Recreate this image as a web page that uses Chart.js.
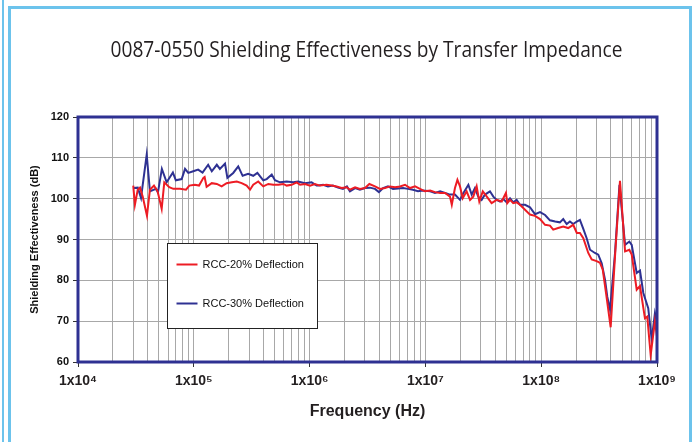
<!DOCTYPE html>
<html lang="en">
<head>
    <meta charset="UTF-8">
    <title>Shielding Effectiveness</title>
    <script src="https://cdn.jsdelivr.net/npm/chart.js"></script>
    <style>
        html, body {
            margin: 0;
            padding: 0;
            background: #fff;
            overflow: hidden;
        }
        #chart {
            position: absolute;
            left: 0;
            top: 0;
        }
        .edge {
            position: absolute;
            left: 2px;
            top: 0;
            width: 2px;
            height: 442px;
            background: #6cc3ec;
        }
        .frame {
            position: absolute;
            left: 8px;
            top: 6px;
            width: 678px;
            height: 460px;
            border: 3px solid #6cc3ec;
        }
    </style>
    <script>
        // frequency (Hz) / shielding effectiveness (dB)
        const rcc20Freq = [
            3.0e4, 3.1e4, 3.28e4, 3.43e4, 3.62e4, 3.94e4, 4.18e4, 4.53e4, 4.87e4, 5.28e4,
            5.56e4, 6.14e4, 6.65e4, 7.0e4, 7.6e4, 8.56e4, 9.15e4, 1.02e5, 1.11e5, 1.21e5,
            1.24e5, 1.29e5, 1.43e5, 1.58e5, 1.74e5, 1.92e5, 2.13e5, 2.35e5, 2.59e5, 2.86e5,
            3.06e5, 3.26e5, 3.6e5, 3.98e5, 4.4e5, 4.86e5, 5.37e5, 5.93e5, 6.34e5, 7.0e5,
            7.74e5, 8.27e5, 9.12e5, 1.01e6, 1.11e6, 1.23e6, 1.4e6, 1.55e6, 1.71e6, 1.89e6,
            2.09e6, 2.23e6, 2.47e6, 2.72e6, 3.01e6, 3.28e6, 3.67e6, 4.05e6, 4.48e6, 4.95e6,
            5.47e6, 6.04e6, 6.67e6, 7.37e6, 8.14e6, 8.98e6, 9.9e6, 1.1e7, 1.21e7, 1.34e7,
            1.48e7, 1.63e7, 1.69e7, 1.8e7, 1.89e7, 1.99e7, 2.1e7, 2.27e7, 2.43e7, 2.59e7,
            2.77e7, 2.92e7, 3.13e7, 3.39e7, 3.73e7, 4.13e7, 4.56e7, 4.96e7, 5.1e7, 5.38e7,
            5.74e7, 6.14e7, 6.56e7, 7.25e7, 8.0e7, 8.84e7, 9.77e7, 1.08e8, 1.19e8, 1.27e8,
            1.4e8, 1.55e8, 1.71e8, 1.89e8, 2.03e8, 2.16e8, 2.31e8, 2.55e8, 2.73e8, 3.01e8,
            3.22e8, 3.4e8, 3.63e8, 3.98e8, 4.34e8, 4.79e8, 5.3e8, 5.77e8, 6.05e8, 6.68e8,
            7.13e8, 7.87e8, 8.24e8, 8.82e8, 9.6e8, 1e9
        ];
        const rcc20SE = [
            103.2, 98.5, 102.2, 102.7, 100.5, 95.8, 102.2, 103.2, 101.8, 97.5,
            104.0, 102.8, 102.4, 102.4, 102.4, 102.2, 103.2, 103.4, 103.2, 105.1,
            105.3, 102.9, 103.8, 103.6, 103.0, 103.8, 104.0, 104.2, 103.8, 103.2,
            102.2, 103.4, 104.2, 103.0, 103.6, 103.4, 103.4, 103.6, 103.2, 103.4,
            104.0, 103.4, 103.6, 103.2, 103.6, 103.2, 103.4, 103.2, 103.0, 102.6,
            102.8, 102.2, 102.8, 102.4, 102.6, 103.6, 103.0, 102.4, 102.6, 103.0,
            102.8, 103.0, 103.4, 102.6, 103.0, 102.4, 101.8, 102.0, 101.6, 101.4,
            101.4, 100.5, 98.5, 102.6, 104.6, 103.0, 100.1, 101.8, 99.7, 100.5,
            103.0, 99.3, 101.8, 100.5, 98.9, 99.7, 99.3, 101.4, 98.9, 99.7,
            98.9, 99.1, 98.5, 97.3, 96.1, 95.8, 95.0, 93.6, 93.4, 92.4,
            92.8, 93.2, 92.8, 93.6, 91.6, 91.6, 90.3, 86.7, 85.1, 84.7,
            84.3, 82.6, 76.9, 68.5, 85.9, 104.4, 87.1, 87.5, 86.3, 77.7,
            78.6, 70.7, 71.1, 61.7, 70.0, 66.2
        ];

        const rcc30Freq = [
            3.0e4, 3.28e4, 3.5e4, 3.92e4, 4.18e4, 4.71e4, 4.9e4, 5.3e4, 5.83e4, 6.6e4,
            7.0e4, 7.86e4, 8.4e4, 8.96e4, 9.9e4, 1.09e5, 1.19e5, 1.33e5, 1.43e5, 1.58e5,
            1.68e5, 1.86e5, 1.95e5, 2.19e5, 2.42e5, 2.64e5, 2.95e5, 3.26e5, 3.54e5, 3.98e5,
            4.26e5, 4.71e5, 5.02e5, 5.55e5, 6.34e5, 7.23e5, 7.95e5, 9.12e5, 1.04e6, 1.15e6,
            1.19e6, 1.31e6, 1.44e6, 1.59e6, 1.76e6, 1.94e6, 2.1e6, 2.23e6, 2.47e6, 2.72e6,
            3.01e6, 3.32e6, 3.67e6, 3.97e6, 4.31e6, 4.75e6, 5.25e6, 5.8e6, 6.41e6, 7.07e6,
            7.81e6, 8.63e6, 9.54e6, 1.1e7, 1.21e7, 1.34e7, 1.48e7, 1.63e7, 1.8e7, 1.99e7,
            2.13e7, 2.35e7, 2.51e7, 2.68e7, 2.86e7, 3.06e7, 3.27e7, 3.61e7, 3.86e7, 4.13e7,
            4.41e7, 4.71e7, 5.03e7, 5.38e7, 5.74e7, 6.14e7, 6.56e7, 7.25e7, 8.0e7, 8.84e7,
            9.77e7, 1.08e8, 1.19e8, 1.32e8, 1.45e8, 1.55e8, 1.66e8, 1.77e8, 1.89e8, 2.03e8,
            2.16e8, 2.31e8, 2.47e8, 2.64e8, 2.91e8, 3.11e8, 3.33e8, 3.56e8, 3.72e8, 3.93e8,
            4.34e8, 4.74e8, 5.3e8, 5.77e8, 6.05e8, 6.68e8, 7.13e8, 7.62e8, 8.4e8, 9.0e8,
            9.6e8, 1e9
        ];
        const rcc30SE = [
            102.6, 102.7, 100.2, 110.8, 101.8, 102.4, 101.5, 107.3, 104.0, 106.4,
            104.5, 104.8, 107.3, 106.3, 106.7, 107.1, 106.4, 108.3, 106.7, 108.3,
            107.3, 108.6, 105.1, 106.3, 107.9, 105.6, 106.1, 105.6, 106.3, 104.5,
            104.8, 105.9, 104.5, 104.0, 104.2, 104.0, 104.2, 103.8, 104.0, 103.2,
            103.2, 103.4, 103.0, 103.2, 102.7, 102.4, 103.0, 101.8, 102.6, 102.2,
            102.6, 102.7, 102.4, 101.6, 102.6, 103.0, 102.4, 102.5, 102.6, 102.4,
            102.2, 101.8, 102.0, 101.8, 101.4, 101.8, 101.4, 101.0, 101.0, 99.7,
            101.4, 103.4, 101.0, 102.6, 100.5, 99.7, 101.0, 101.8, 100.5, 99.7,
            99.3, 99.9, 99.1, 100.1, 99.1, 99.7, 98.5, 98.5, 97.9, 96.2,
            96.7, 96.0, 94.7, 94.4, 94.2, 95.0, 93.8, 94.4, 93.8, 94.4,
            94.8, 92.6, 90.3, 87.5, 86.7, 86.3, 84.2, 80.1, 76.0, 72.8,
            86.7, 103.4, 88.7, 89.5, 88.7, 81.8, 82.4, 76.9, 73.2, 65.5,
            72.0, 69.8
        ];

        const chartTitle = '0087-0550 Shielding Effectiveness by Transfer Impedance';
        const seriesLabels = ['RCC-20% Deflection', 'RCC-30% Deflection'];
        const decadeTicks = [1e4, 1e5, 1e6, 1e7, 1e8, 1e9];
        const decadeLabels = ['1x10⁴', '1x10⁵', '1x10⁶', '1x10⁷', '1x10⁸', '1x10⁹'];

        const RED = '#ed1c24';
        const NAVY = '#2e3192';
        const GRID = '#a8a8a8';

        function toPoints(freqs, values) {
            return freqs.map((f, i) => ({ x: f, y: values[i] }));
        }

        // gridlines at 1..9 x each decade
        function logGridValues() {
            const vals = [];
            for (let d = 0; d < decadeTicks.length - 1; d++) {
                for (let m = 1; m < 10; m++) {
                    vals.push(m * decadeTicks[d]);
                }
            }
            vals.push(decadeTicks[decadeTicks.length - 1]);
            return vals;
        }

        // condensed title (no narrow font installed, so squeeze Open Sans)
        const narrowTitle = {
            id: 'narrowTitle',
            afterDraw(chart) {
                const { ctx, chartArea } = chart;
                ctx.save();
                ctx.font = '22px "Open Sans", sans-serif';
                ctx.fillStyle = '#231f20';
                ctx.textAlign = 'center';
                ctx.textBaseline = 'alphabetic';
                const natural = ctx.measureText(chartTitle).width;
                const sx = 512 / natural;
                const cx = (chartArea.left + chartArea.right) / 2 - 1;
                ctx.translate(cx, chartArea.top - 60);
                ctx.scale(sx, 1);
                ctx.fillText(chartTitle, 0, 0);
                ctx.restore();
            }
        };

        // border round the plot area
        const plotFrame = {
            id: 'plotFrame',
            afterDatasetsDraw(chart) {
                const { ctx, chartArea } = chart;
                ctx.save();
                ctx.strokeStyle = NAVY;
                ctx.lineWidth = 3;
                ctx.strokeRect(chartArea.left, chartArea.top,
                    chartArea.right - chartArea.left, chartArea.bottom - chartArea.top);
                ctx.restore();
            }
        };

        // boxed legend sitting inside the plot
        const boxLegend = {
            id: 'boxLegend',
            beforeDatasetsDraw(chart) {
                const { ctx, chartArea } = chart;
                const x = Math.round(chartArea.left + 89) + 0.5;
                const y = Math.round(chartArea.top + 126) + 0.5;
                const w = 150, h = 85;
                ctx.save();
                ctx.fillStyle = '#fff';
                ctx.fillRect(x, y, w, h);
                ctx.strokeStyle = '#222';
                ctx.lineWidth = 1;
                ctx.strokeRect(x, y, w, h);
                ctx.font = '11px "Liberation Sans", Arial, sans-serif';
                ctx.textBaseline = 'middle';
                ctx.fillStyle = '#111';
                chart.data.datasets.forEach((ds, i) => {
                    const ly = y + 21 + i * 39;
                    ctx.strokeStyle = ds.borderColor;
                    ctx.lineWidth = 2;
                    ctx.beginPath();
                    ctx.moveTo(x + 9, ly);
                    ctx.lineTo(x + 30, ly);
                    ctx.stroke();
                    ctx.fillText(ds.label, x + 35, ly);
                });
                ctx.restore();
            }
        };

        document.addEventListener('DOMContentLoaded', function () {
            const gridValues = logGridValues();
            const ctx = document.getElementById('chart').getContext('2d');

            new Chart(ctx, {
                type: 'line',
                data: {
                    datasets: [
                        {
                            label: seriesLabels[0],
                            data: toPoints(rcc20Freq, rcc20SE),
                            borderColor: RED,
                            borderWidth: 2,
                            pointRadius: 0,
                            tension: 0
                        },
                        {
                            label: seriesLabels[1],
                            data: toPoints(rcc30Freq, rcc30SE),
                            borderColor: NAVY,
                            borderWidth: 2,
                            pointRadius: 0,
                            tension: 0
                        }
                    ]
                },
                options: {
                    responsive: false,
                    animation: false,
                    devicePixelRatio: 1,
                    layout: { padding: { top: 117, left: 0, right: 41, bottom: 0 } },
                    plugins: {
                        legend: { display: false },
                        tooltip: { enabled: false },
                        title: { display: false }
                    },
                    scales: {
                        x: {
                            type: 'logarithmic',
                            min: 1e4,
                            max: 1e9,
                            afterBuildTicks: function (scale) {
                                scale.ticks = gridValues.map(v => ({ value: v }));
                            },
                            afterFit: function (scale) {
                                scale.height = 80;
                            },
                            ticks: {
                                autoSkip: false,
                                maxRotation: 0,
                                padding: 6,
                                color: '#231f20',
                                font: { family: '"Liberation Sans", Arial, sans-serif', size: 14, weight: 'bold' },
                                callback: function (value) {
                                    const i = decadeTicks.indexOf(value);
                                    return i >= 0 ? decadeLabels[i] : '';
                                }
                            },
                            grid: {
                                color: GRID,
                                lineWidth: 1,
                                tickLength: 5,
                                tickColor: function (c) {
                                    return c.tick && decadeTicks.includes(c.tick.value) ? '#333' : 'rgba(0,0,0,0)';
                                }
                            },
                            border: { display: false },
                            title: {
                                display: true,
                                text: 'Frequency (Hz)',
                                color: '#231f20',
                                font: { family: '"Liberation Sans", Arial, sans-serif', size: 16, weight: 'bold' },
                                padding: { top: 0, bottom: 21 }
                            }
                        },
                        y: {
                            min: 60,
                            max: 120,
                            afterFit: function (scale) {
                                scale.width = 78;
                            },
                            ticks: {
                                stepSize: 10,
                                padding: 4,
                                color: '#111',
                                font: { family: '"Liberation Sans", Arial, sans-serif', size: 11, weight: 'bold' }
                            },
                            grid: {
                                color: GRID,
                                lineWidth: 1,
                                tickLength: 5,
                                tickColor: '#333'
                            },
                            border: { display: false },
                            title: {
                                display: true,
                                text: 'Shielding Effectiveness (dB)',
                                color: '#111',
                                font: { family: '"Liberation Sans", Arial, sans-serif', size: 11, weight: 'bold' },
                                padding: { top: 28, bottom: 0 }
                            }
                        }
                    }
                },
                plugins: [boxLegend, plotFrame, narrowTitle]
            });
        });
    </script>
</head>
<body>
    <canvas id="chart" width="698" height="442"></canvas>
    <div class="edge"></div>
    <div class="frame"></div>
</body>
</html>
